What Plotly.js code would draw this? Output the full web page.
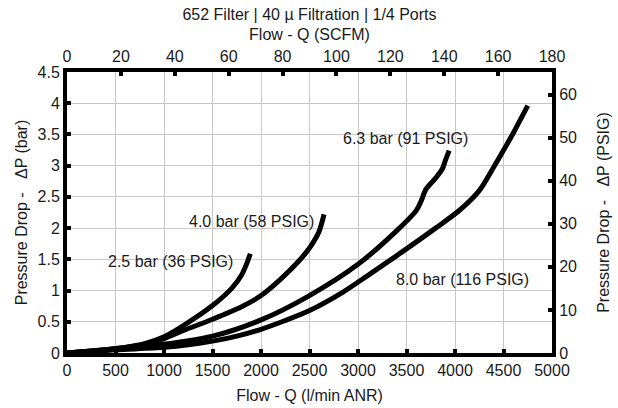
<!DOCTYPE html>
<html>
<head>
<meta charset="utf-8">
<script src="https://cdn.plot.ly/plotly-3.0.1.min.js"></script>
<style>html,body{margin:0;padding:0;background:#fff}#chart{width:618px;height:408px}</style>
</head>
<body>
<div id="chart"></div>
<script>
// Flow (l/min ANR) and pressure drop (bar)
var q25 = [0, 300, 600, 800, 1000, 1200, 1500, 1700, 1800, 1850, 1890];
var p25 = [0, 0.04, 0.09, 0.15, 0.26, 0.44, 0.76, 1.04, 1.25, 1.42, 1.59];

var q40 = [0, 300, 600, 800, 1000, 1200, 1500, 1800, 2000, 2200, 2400, 2500, 2550, 2600, 2650];
var p40 = [0, 0.04, 0.09, 0.14, 0.23, 0.36, 0.54, 0.74, 0.92, 1.18, 1.49, 1.68, 1.80, 1.95, 2.22];

var q63 = [0, 500, 1000, 1500, 2000, 2500, 3000, 3400, 3600, 3650, 3700, 3800, 3870, 3900, 3940];
var p63 = [0, 0.06, 0.14, 0.27, 0.53, 0.92, 1.42, 1.96, 2.28, 2.43, 2.62, 2.80, 2.95, 3.08, 3.24];

var q80 = [0, 500, 1000, 1250, 1500, 1750, 2000, 2250, 2500, 2850, 3100, 3400, 3800, 4050, 4250, 4400, 4600, 4750];
var p80 = [0, 0.05, 0.09, 0.13, 0.19, 0.27, 0.38, 0.52, 0.68, 0.98, 1.24, 1.56, 2.00, 2.29, 2.60, 2.98, 3.52, 3.96];

var seriesLabels = ['2.5 bar (36 PSIG)', '4.0 bar (58 PSIG)', '6.3 bar (91 PSIG)', '8.0 bar (116 PSIG)'];
var labelX = [1062, 1897, 3485, 4082];
var labelY = [1.46, 2.10, 3.44, 1.185];

var titleText = '652 Filter | 40\u00a0\u00b5 Filtration | 1/4 Ports';
var xTitle = 'Flow - Q (l/min ANR)';
var x2Title = 'Flow - Q (SCFM)';
var yTitle = 'Pressure Drop - \u00a0\u00a0\u0394P (bar)';
var y2Title = 'Pressure Drop - \u00a0\u00a0\u0394P (PSIG)';

var BAR_TO_PSI = 14.5038;
var yMax = 4.5;

var FONT = 'Liberation Sans, Arial, Helvetica, sans-serif';
var TXT = '#1a1a1a';

function curve(x, y) {
  return {x: x, y: y, type: 'scatter', mode: 'lines',
    line: {color: '#000', width: 5, shape: 'spline', smoothing: 0.8},
    hoverinfo: 'skip', showlegend: false};
}

var data = [curve(q25, p25), curve(q40, p40), curve(q63, p63), curve(q80, p80),
  {x: [0], y: [0], xaxis: 'x2', yaxis: 'y', mode: 'markers', marker: {opacity: 0}, showlegend: false, hoverinfo: 'skip'},
  {x: [0], y: [0], xaxis: 'x', yaxis: 'y2', mode: 'markers', marker: {opacity: 0}, showlegend: false, hoverinfo: 'skip'}
];

var annotations = seriesLabels.map(function (t, i) {
  return {x: labelX[i], y: labelY[i], xref: 'x', yref: 'y', text: t, showarrow: false,
    font: {family: FONT, size: 16, color: TXT}, xanchor: 'center', yanchor: 'middle'};
});

var axisCommon = {
  showline: true, linecolor: '#000', linewidth: 4,
  ticks: 'inside', ticklen: 4, tickwidth: 4, tickcolor: '#000',
  tickfont: {family: FONT, size: 16, color: TXT},
  zeroline: false, fixedrange: true
};

var layout = {
  width: 618, height: 408,
  margin: {l: 67, r: 66, t: 72, b: 55, pad: 0},
  paper_bgcolor: '#fff', plot_bgcolor: '#fff',
  font: {family: FONT, size: 16, color: TXT},
  title: {text: titleText, font: {family: FONT, size: 16, color: TXT},
    x: 0.5, xanchor: 'center', xref: 'paper', y: 1 - 14 / 408, yref: 'container', yanchor: 'middle'},
  xaxis: Object.assign({}, axisCommon, {
    range: [0, 5000], dtick: 500, tick0: 0,
    showgrid: true, gridcolor: '#c8c8c8', gridwidth: 1,
    title: {text: xTitle, font: {family: FONT, size: 16, color: TXT}, standoff: 13}
  }),
  xaxis2: Object.assign({}, axisCommon, {
    range: [0, 180], dtick: 20, tick0: 0, overlaying: 'x', side: 'top', showgrid: false,
    title: {text: x2Title, font: {family: FONT, size: 16, color: TXT}, standoff: 4}
  }),
  yaxis: Object.assign({}, axisCommon, {
    range: [0, yMax], dtick: 0.5, tick0: 0,
    showgrid: true, gridcolor: '#c8c8c8', gridwidth: 1,
    title: {text: yTitle, font: {family: FONT, size: 16, color: TXT}, standoff: 7}
  }),
  yaxis2: Object.assign({}, axisCommon, {
    range: [0, yMax * BAR_TO_PSI], dtick: 10, tick0: 0, overlaying: 'y', side: 'right', showgrid: false,
    title: {text: y2Title, font: {family: FONT, size: 16, color: TXT}, standoff: 23}
  }),
  annotations: annotations,
  showlegend: false
};

Plotly.newPlot('chart', data, layout, {staticPlot: true, displayModeBar: false});
</script>
</body>
</html>
